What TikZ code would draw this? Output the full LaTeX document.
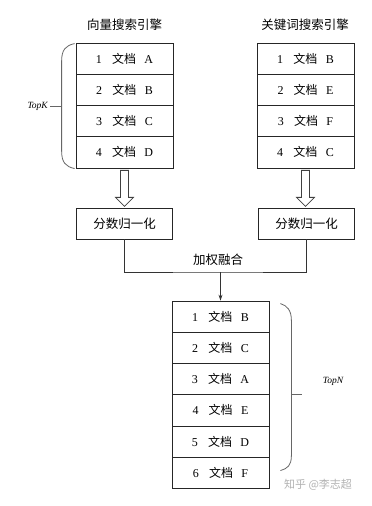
\documentclass[tikz,border=0pt]{standalone}
\usepackage{fontspec}
\setmainfont{Liberation Serif}
\newfontfamily\cjk{Noto Sans CJK SC}
\usetikzlibrary{arrows.meta}
\tikzset{
  row/.style={draw=black!85, line width=0.8pt, minimum width=97pt, minimum height=31.25pt, inner sep=0pt, font=\fontsize{12}{12}\selectfont},
  normbox/.style={draw=black!85, line width=0.8pt, minimum width=96.5pt, minimum height=31pt, inner sep=0pt, font=\cjk\fontsize{12.5}{12.5}\selectfont},
  title/.style={font=\cjk\fontsize{12.5}{12.5}\selectfont, inner sep=0pt},
  brace/.style={draw=black!60, line width=0.8pt},
  hollow/.style={draw=black!75, line width=0.8pt, fill=white},
  conn/.style={draw=black!80, line width=0.8pt},
  lbl/.style={font=\itshape\fontsize{9.5}{9.5}\selectfont, inner sep=0pt}
}
\newcommand{\docrow}[2]{#1\hspace{0.85em}{\cjk 文档}\hspace{0.7em}#2}
\begin{document}
\begin{tikzpicture}[x=1pt,y=-1pt]
\useasboundingbox[fill=white] (0,0) rectangle (372,506);
% titles
\node[title] (t1) at (124.5,25) {向量搜索引擎};
\node[title] (t2) at (305,25) {关键词搜索引擎};
% left table
\foreach \i/\d [count=\k from 0] in {1/A,2/B,3/C,4/D}
  \node[row] (l\i) at (124.5,{58.6+31.25*\k}) {\docrow{\i}{\d}};
% right table
\foreach \i/\d [count=\k from 0] in {1/B,2/E,3/F,4/C}
  \node[row] (r\i) at (305.5,{58.6+31.25*\k}) {\docrow{\i}{\d}};
% left brace and TopK
\draw[brace] (l1.north west) ++(-1,1) .. controls ++(-9,2) and ++(0,-12) .. ++(-13,18) coordinate (lb1)
  -- ++(0,89) .. controls ++(0,12) and ++(-9,-2) .. ++(13,18);
\coordinate (lbt) at (62,106);
\node[lbl, anchor=east] (topk) at (48,106) {TopK};
\draw[brace] (topk.east) ++(2,0) -- (lbt);
% hollow arrows
\draw[hollow] (l4.south) ++(-4,2) -- ++(0,27) -- ++(-5,0) -- ++(9,9) -- ++(9,-9) -- ++(-5,0) -- ++(0,-27) -- cycle;
\draw[hollow] (r4.south) ++(-4,2) -- ++(0,27) -- ++(-5,0) -- ++(9,9) -- ++(9,-9) -- ++(-5,0) -- ++(0,-27) -- cycle;
% normalization boxes
\node[normbox] (n1) at (124.5,223.5) {分数归一化};
\node[normbox] (n2) at (306.5,223.5) {分数归一化};
% bottom table
\foreach \i/\d [count=\k from 0] in {1/B,2/C,3/A,4/E,5/D,6/F}
  \node[row] (b\i) at (220.5,{316.6+31.25*\k}) {\docrow{\i}{\d}};
% fusion
\coordinate (m) at (220.5,272);
\draw[conn] (n1.south) |- (m) -| (n2.south);
\node[title, font=\cjk\fontsize{12.5}{12.5}\selectfont] (fuse) at (218,259.5) {加权融合};
\draw[conn, -{Stealth[length=6pt,width=4pt]}] (m) -- (b1.north);
% right brace and TopN
\draw[brace] (b1.north east) ++(11,3) .. controls ++(7,2) and ++(0,-10) .. ++(11,17)
  -- ++(0,135) .. controls ++(0,10) and ++(7,-2) .. ++(-11,15);
\coordinate (rbt) at (291,394);
\draw[brace] (rbt) -- ++(11,0);
\node[lbl] (topn) at (333,381) {TopN};
% watermark
\node[font=\cjk\fontsize{11}{11}\selectfont, text=black!30, inner sep=0pt] (wm) at (318,485) {知乎 @李志超};
\end{tikzpicture}
\end{document}
